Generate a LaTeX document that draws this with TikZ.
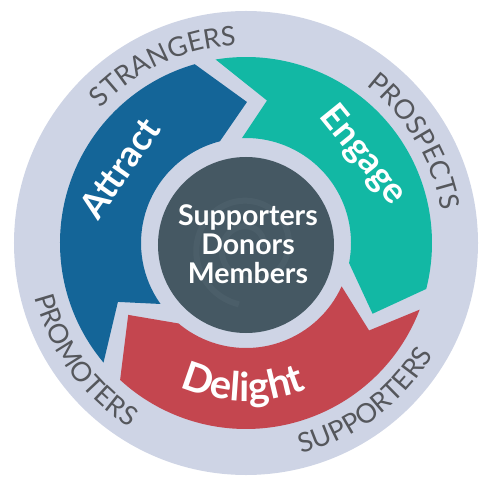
\documentclass[tikz,border=0pt]{standalone}
\usepackage{fontspec}
\setmainfont{Lato}
\usetikzlibrary{decorations.text}
\definecolor{ringbg}{RGB}{206,212,229}
\definecolor{attractblue}{RGB}{20,101,152}
\definecolor{engageteal}{RGB}{18,184,164}
\definecolor{delightred}{RGB}{196,70,79}
\definecolor{coredark}{RGB}{69,88,99}
\definecolor{spiralc}{RGB}{80,99,109}
\definecolor{labelgray}{RGB}{85,87,92}
\tikzset{
  ringlabel/.style={decorate, decoration={text along path, text align=center,
     text={|\fontsize{27}{27}\selectfont\color{labelgray}|#1}}},
  stagelabel/.style={text=white, font=\fontsize{36}{36}\selectfont\bfseries, inner sep=0pt, anchor=mid},
}
\begin{document}
\begin{tikzpicture}[x=1pt,y=1pt]
\useasboundingbox (-246,-244) rectangle (254,243);
% outer ring
\fill[ringbg] (0,0) circle[radius=232pt];
% arrows
\fill[attractblue] (220:186pt) arc[start angle=220,end angle=106,radius=186pt]
  -- (89.6:141pt) -- (104.4:105pt) arc[start angle=104.4,end angle=215.5,radius=105pt]
  -- (204.7:141pt) -- cycle;
\fill[engageteal] (99.4:186pt) arc[start angle=99.4,end angle=-14.3,radius=186pt]
  -- (-29.2:145pt) -- (-11:105pt) arc[start angle=-11,end angle=92.2,radius=105pt]
  -- (81.6:144pt) -- cycle;
\fill[delightred] (-21:186pt) arc[start angle=-21,end angle=-132.6,radius=186pt]
  -- (-148.6:138pt) -- (-130:105pt) arc[start angle=-130,end angle=-24.4,radius=105pt]
  -- (-35.4:151pt) -- cycle;
% core
\fill[coredark] (0,-2) circle[radius=88pt];
\begin{scope}[shift={(3,-4)}]
\draw[spiralc, line width=6pt, opacity=0.6] plot[domain=0:620, samples=90, smooth]
  ({(14+\x/14)*cos(\x)}, {(14+\x/14)*sin(\x)});
\end{scope}
\node[align=center, text=white, font=\fontsize{28.5}{29}\selectfont\bfseries, inner sep=0pt] (core) at (2,-1) {Supporters\\Donors\\Members};
% stage labels
\node[stagelabel, rotate=55] (attract) at (-118,69) {Attract};
\node[stagelabel, rotate=-51] (engage) at (111,83) {Engage};
\path[decorate, decoration={text along path, text align=center,
   text={|\fontsize{40}{40}\selectfont\bfseries\color{white}|Delight}}]
   (200:158pt) arc[start angle=200,end angle=338,radius=158pt];
% ring labels
\path[ringlabel=STRANGERS] (175:198pt) arc[start angle=175,end angle=55,radius=198pt];
\path[ringlabel=PROSPECTS] (91:198pt) arc[start angle=91,end angle=-29,radius=198pt];
\path[ringlabel=SUPPORTERS] (-113:218pt) arc[start angle=-113,end angle=7,radius=218pt];
\path[ringlabel=PROMOTERS] (156:218pt) arc[start angle=156,end angle=276,radius=218pt];
\end{tikzpicture}
\end{document}
